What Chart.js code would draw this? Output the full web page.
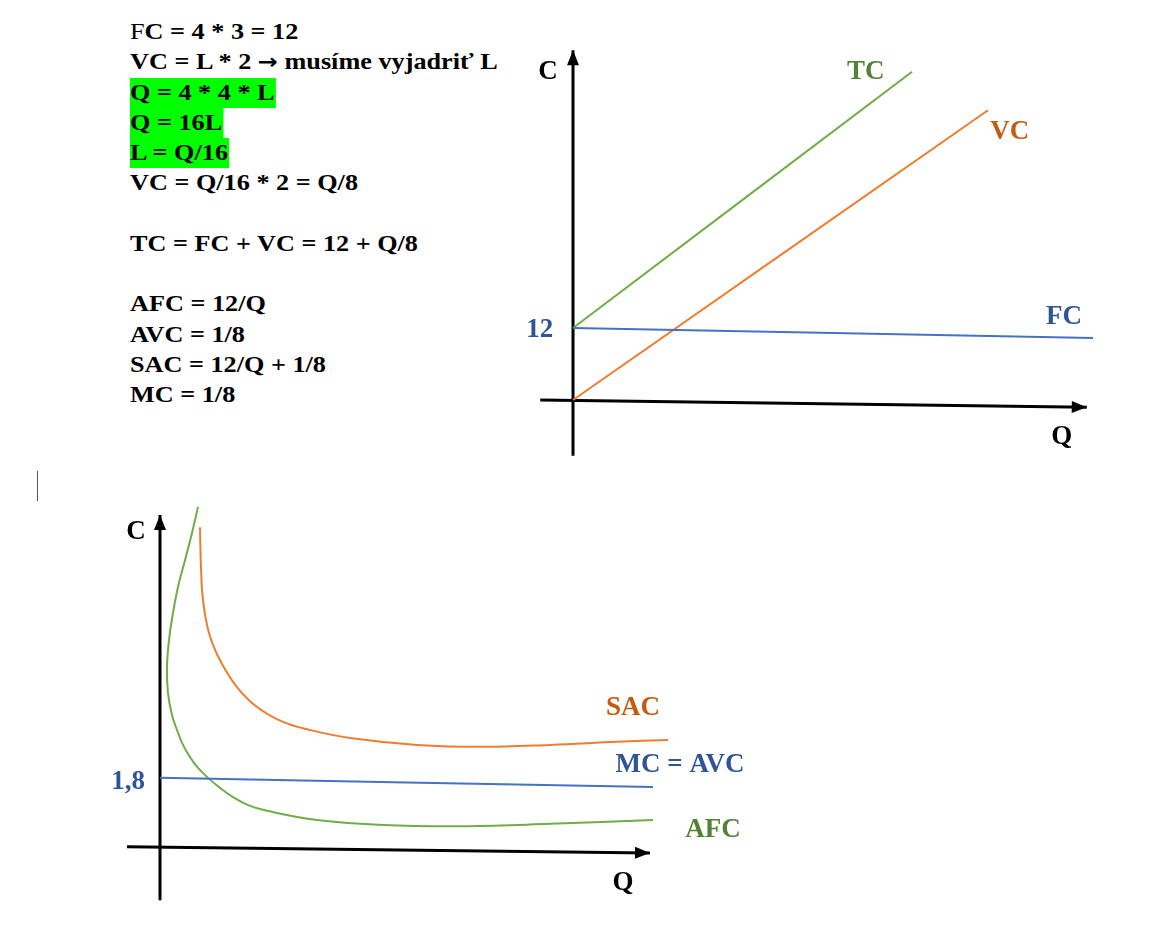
<!DOCTYPE html>
<html>
<head>
<meta charset="utf-8">
<script src="https://cdn.jsdelivr.net/npm/chart.js@4/dist/chart.umd.min.js"></script>
<style>
  html, body { margin: 0; padding: 0; background: #fff; }
  body { width: 1173px; height: 934px; position: relative; overflow: hidden; }
  #notes {
    position: absolute; left: 130px; top: 17px;
    font: bold 23px "Liberation Serif", "Times New Roman", serif;
    line-height: 30.25px; color: #000;
    transform: scaleX(1.14); transform-origin: 0 0;
    white-space: nowrap;
  }
  #notes div { height: 30.25px; }
  #notes .hl { display: inline-block; background: #00ff00; padding-right: 1px; }
  #notes .reg { font-weight: normal; }
  #notes .arr { font-family: "DejaVu Sans", sans-serif; font-size: 21px; }
  #cursor { position: absolute; left: 37px; top: 471px; width: 1px; height: 30px; background: #555; }
  canvas { position: absolute; }
  #topChart { left: 500px; top: 30px; }
  #bottomChart { left: 80px; top: 490px; }
</style>
</head>
<body>
<div id="notes">
  <div><span class="reg">F</span>C = 4 * 3 = 12</div>
  <div>VC = L * 2 <span class="arr">&#8594;</span> musíme vyjadriť L</div>
  <div><span class="hl">Q = 4 * 4 * L</span></div>
  <div><span class="hl">Q = 16L</span></div>
  <div><span class="hl">L = Q/16</span></div>
  <div>VC = Q/16 * 2 = Q/8</div>
  <div></div>
  <div>TC = FC + VC = 12 + Q/8</div>
  <div></div>
  <div>AFC = 12/Q</div>
  <div>AVC = 1/8</div>
  <div>SAC = 12/Q + 1/8</div>
  <div>MC = 1/8</div>
</div>
<div id="cursor"></div>
<canvas id="topChart" width="620" height="450"></canvas>
<canvas id="bottomChart" width="720" height="430"></canvas>
<script>
// ---- top diagram: total costs (Q on x, C on y) ----
const topAxisQ_q = [-6.3, 98.8];
const topAxisQ_c = [0, -1.2];
const topAxisC_q = [0, 0];
const topAxisC_c = [-9.3, 58.3];
const tcQ = [0, 65.2];
const tcC = [12, 54.7];
const vcQ = [0, 79.8];
const vcC = [0, 48.3];
const fcQ = [0, 100];
const fcC = [12, 10.33];

const topLabels = ['C', 'TC', 'VC', 'FC', '12', 'Q'];
const topLabelQ = [-4.8, 56.3, 84.0, 94.4, -6.4, 94.0];
const topLabelC = [54.7, 54.7, 44.7, 13.8, 11.7, -6.2];

// ---- bottom diagram: average costs ----
const botAxisQ_q = [-6.4, 98.2];
const botAxisQ_c = [0.03, -0.13];
const botAxisC_q = [0.2, 0.2];
const botAxisC_c = [-1.36, 8.69];
const afcQ = [7.8, 6.6, 5.2, 3.8, 2.8, 2.0, 1.6, 1.8, 2.6, 3.6, 4.8, 6.2, 7.8, 9.8, 12.2, 14.8, 17.8, 21.6, 31.6, 44.8, 61.6, 78.2, 98.8];
const afcC = [8.90, 8.22, 7.51, 6.81, 6.13, 5.43, 4.72, 4.04, 3.47, 3.08, 2.69, 2.37, 2.09, 1.83, 1.57, 1.33, 1.12, 0.97, 0.73, 0.60, 0.57, 0.63, 0.73];
const sacQ = [8.2, 8.4, 8.8, 10.0, 12.2, 15.6, 19.6, 24.8, 30.2, 38.2, 51.6, 64.8, 78.2, 91.6, 101.8];
const sacC = [8.37, 7.33, 6.47, 5.61, 4.90, 4.20, 3.68, 3.29, 3.08, 2.87, 2.69, 2.64, 2.69, 2.77, 2.82];
const mcQ = [0.2, 98.8];
const mcC = [1.83, 1.59];

const botLabels = ['C', '1,8', 'Q', 'SAC', 'MC = AVC', 'AFC'];
const botLabelQ = [-4.6, -6.2, 92.8, 94.8, 104.2, 110.8];
const botLabelC = [8.24, 1.72, -0.91, 3.65, 2.17, 0.47];

const GREEN = '#70AD47', ORANGE = '#ED7D31', BLUE = '#4472C4';
const topLabelColors = ['#000', '#548235', '#C55A11', '#2F5597', '#2F5597', '#000'];
const botLabelColors = ['#000', '#2F5597', '#000', '#C55A11', '#2F5597', '#548235'];

const zip = (q, c) => q.map((v, i) => ({ x: v, y: c[i] }));

// draws an arrow head at the end of datasets flagged with `arrow`
const arrowPlugin = {
    id: 'arrowHeads',
    afterDatasetsDraw(chart) {
        const ctx = chart.ctx;
        chart.data.datasets.forEach((ds, i) => {
            if (!ds.arrow) return;
            const pts = chart.getDatasetMeta(i).data;
            const a = pts[pts.length - 2], b = pts[pts.length - 1];
            const ang = Math.atan2(b.y - a.y, b.x - a.x);
            const len = 15, half = 6;
            ctx.save();
            ctx.translate(b.x, b.y);
            ctx.rotate(ang);
            ctx.beginPath();
            ctx.moveTo(0, 0);
            ctx.lineTo(-len, -half);
            ctx.lineTo(-len, half);
            ctx.closePath();
            ctx.fillStyle = ds.borderColor;
            ctx.fill();
            ctx.restore();
        });
    }
};

// text labels placed through the chart scales
const textPlugin = {
    id: 'textLabels',
    afterDraw(chart, args, opts) {
        const ctx = chart.ctx;
        const xs = chart.scales.x, ys = chart.scales.y;
        ctx.save();
        ctx.font = 'bold 27px "Liberation Serif", "Times New Roman", serif';
        ctx.textAlign = 'center';
        ctx.textBaseline = 'middle';
        opts.texts.forEach((t, i) => {
            ctx.fillStyle = opts.colors[i];
            ctx.fillText(t, xs.getPixelForValue(opts.q[i]), ys.getPixelForValue(opts.c[i]));
        });
        ctx.restore();
    }
};

function axisSet(q, c) {
    return { data: zip(q, c), borderColor: '#000', borderWidth: 3, arrow: true };
}
function curveSet(q, c, color) {
    return { data: zip(q, c), borderColor: color, borderWidth: 2, tension: 0.4 };
}

function makeChart(id, datasets, range, labels) {
    return new Chart(document.getElementById(id), {
        type: 'scatter',
        data: {
            datasets: datasets.map(d => Object.assign({
                showLine: true, pointRadius: 0, fill: false, clip: false
            }, d))
        },
        options: {
            responsive: false,
            animation: false,
            devicePixelRatio: 1,
            layout: { padding: 0 },
            events: [],
            plugins: {
                legend: { display: false },
                tooltip: { enabled: false },
                textLabels: labels
            },
            scales: {
                x: { type: 'linear', display: false, min: range[0], max: range[1] },
                y: { type: 'linear', display: false, min: range[2], max: range[3] }
            }
        },
        plugins: [arrowPlugin, textPlugin]
    });
}

makeChart('topChart', [
    curveSet(fcQ, fcC, BLUE),
    curveSet(vcQ, vcC, ORANGE),
    curveSet(tcQ, tcC, GREEN),
    axisSet(topAxisQ_q, topAxisQ_c),
    axisSet(topAxisC_q, topAxisC_c)
], [-14.04, 105.19, -13.33, 61.67],
   { texts: topLabels, q: topLabelQ, c: topLabelC, colors: topLabelColors });

makeChart('bottomChart', [
    curveSet(mcQ, mcC, BLUE),
    curveSet(sacQ, sacC, ORANGE),
    curveSet(afcQ, afcC, GREEN),
    axisSet(botAxisQ_q, botAxisQ_c),
    axisSet(botAxisC_q, botAxisC_c)
], [-15.8, 128.2, -1.878, 9.340],
   { texts: botLabels, q: botLabelQ, c: botLabelC, colors: botLabelColors });
</script>
</body>
</html>
